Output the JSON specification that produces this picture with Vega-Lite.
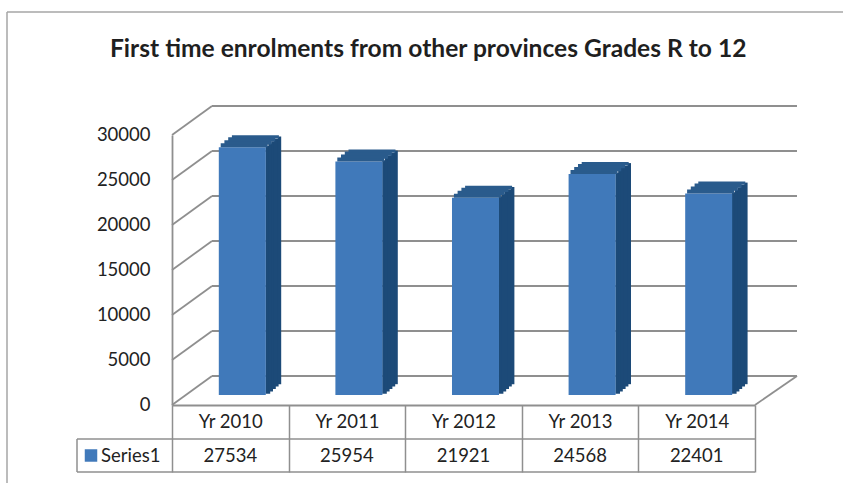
{
  "$schema": "https://vega.github.io/schema/vega-lite/v6.json",
  "width": 836.4,
  "height": 471.4,
  "autosize": {"type": "none"},
  "padding": {"left": 7, "top": 12, "right": 0, "bottom": 0},
  "background": "white",
  "config": {
    "font": "Lato",
    "view": {"stroke": "#a6a6a6", "strokeWidth": 1.5, "strokeDash": [836.4, 1307.8, 471.4, 0]},
    "axis": {"grid": false, "title": null, "labelFont": "Lato", "labelFontSize": 18.5, "labelColor": "#222222", "domainColor": "#8f8f8f", "domainWidth": 1.8}
  },
  "title": {
    "text": "First time enrolments from other provinces Grades R to 12",
    "font": "Lato",
    "fontSize": 24.6,
    "fontWeight": "bold",
    "color": "#1f1f1f",
    "anchor": "middle",
    "frame": "group",
    "baseline": "alphabetic",
    "offset": -70,
    "dx": 3
  },
  "datasets": {
    "enrol": [
      {"year": "Yr 2010", "value": 27534},
      {"year": "Yr 2011", "value": 25954},
      {"year": "Yr 2012", "value": 21921},
      {"year": "Yr 2013", "value": 24568},
      {"year": "Yr 2014", "value": 22401}
    ],
    "levels": [
      {"v": 0}, {"v": 5000}, {"v": 10000}, {"v": 15000}, {"v": 20000}, {"v": 25000}, {"v": 30000}
    ],
    "one": [{"label": "Series1"}]
  },
  "layer": [
    {
      "data": {"name": "levels"},
      "mark": {"type": "rule", "color": "#8f8f8f", "strokeWidth": 1.8, "xOffset": 40, "x2Offset": 42, "yOffset": -29},
      "encoding": {
        "x": {
          "datum": "Yr 2010", "type": "nominal", "bandPosition": 0,
          "scale": {"domain": ["Yr 2010", "Yr 2011", "Yr 2012", "Yr 2013", "Yr 2014"], "range": [165, 748], "paddingInner": 0, "paddingOuter": 0},
          "axis": {"orient": "bottom", "offset": -78.4, "labelAngle": 0, "tickBand": "extent", "ticks": true, "tickSize": 67, "tickColor": "#8f8f8f", "tickWidth": 1.5, "labelPadding": -50, "labelBaseline": "middle", "title": null}
        },
        "x2": {"datum": "Yr 2014", "bandPosition": 1},
        "y": {
          "field": "v", "type": "quantitative",
          "scale": {"domain": [0, 30000], "range": [393, 123], "nice": false, "zero": true},
          "axis": {"orient": "left", "offset": -165, "ticks": false, "labelPadding": 22, "values": [0, 5000, 10000, 15000, 20000, 25000, 30000], "format": "d", "title": null}
        }
      }
    },
    {
      "data": {"name": "levels"},
      "mark": {"type": "rule", "color": "#8f8f8f", "strokeWidth": 1.8, "x2Offset": 40, "y2Offset": -29},
      "encoding": {
        "x": {"datum": "Yr 2010", "type": "nominal", "bandPosition": 0},
        "x2": {"datum": "Yr 2010", "bandPosition": 0},
        "y": {"field": "v", "type": "quantitative"},
        "y2": {"field": "v"}
      }
    },
    {
      "data": {"name": "one"},
      "mark": {"type": "rule", "color": "#8f8f8f", "strokeWidth": 1.8, "x2Offset": 42, "y2Offset": -29},
      "encoding": {
        "x": {"datum": "Yr 2014", "type": "nominal", "bandPosition": 1},
        "x2": {"datum": "Yr 2014", "bandPosition": 1},
        "y": {"datum": 0, "type": "quantitative"},
        "y2": {"datum": 0}
      }
    },
    {
      "data": {"name": "one"},
      "mark": {"type": "rule", "color": "#8f8f8f", "strokeWidth": 1.5, "xOffset": -95, "yOffset": 34},
      "encoding": {
        "x": {"datum": "Yr 2010", "type": "nominal", "bandPosition": 0},
        "x2": {"datum": "Yr 2014", "bandPosition": 1},
        "y": {"datum": 0, "type": "quantitative"}
      }
    },
    {
      "data": {"name": "one"},
      "mark": {"type": "rule", "color": "#8f8f8f", "strokeWidth": 1.5, "xOffset": -95, "yOffset": 67},
      "encoding": {
        "x": {"datum": "Yr 2010", "type": "nominal", "bandPosition": 0},
        "x2": {"datum": "Yr 2014", "bandPosition": 1},
        "y": {"datum": 0, "type": "quantitative"}
      }
    },
    {
      "data": {"name": "one"},
      "mark": {"type": "rule", "color": "#8f8f8f", "strokeWidth": 1.5, "xOffset": -95, "yOffset": 34, "y2Offset": 67},
      "encoding": {
        "x": {"datum": "Yr 2010", "type": "nominal", "bandPosition": 0},
        "y": {"datum": 0, "type": "quantitative"},
        "y2": {"datum": 0}
      }
    },
    {
      "data": {"name": "enrol"},
      "mark": {"type": "bar", "color": "#1c4a78", "width": 4.6, "xOffset": 37.6, "yOffset": -11.2, "y2Offset": -11.2},
      "encoding": {"x": {"field": "year", "type": "nominal"}, "y": {"field": "value", "type": "quantitative"}}
    },
    {
      "data": {"name": "enrol"},
      "mark": {"type": "bar", "color": "#1c4a78", "width": 4.6, "xOffset": 40.4, "yOffset": -13.6, "y2Offset": -13.6},
      "encoding": {"x": {"field": "year", "type": "nominal"}, "y": {"field": "value", "type": "quantitative"}}
    },
    {
      "data": {"name": "enrol"},
      "mark": {"type": "bar", "color": "#1c4a78", "width": 4.6, "xOffset": 43.2, "yOffset": -16, "y2Offset": -16},
      "encoding": {"x": {"field": "year", "type": "nominal"}, "y": {"field": "value", "type": "quantitative"}}
    },
    {
      "data": {"name": "enrol"},
      "mark": {"type": "bar", "color": "#1c4a78", "width": 4.6, "xOffset": 46, "yOffset": -18.4, "y2Offset": -18.4},
      "encoding": {"x": {"field": "year", "type": "nominal"}, "y": {"field": "value", "type": "quantitative"}}
    },
    {
      "data": {"name": "enrol"},
      "mark": {"type": "bar", "color": "#1c4a78", "width": 3.4, "xOffset": 49.2, "yOffset": -20.8, "y2Offset": -20.8},
      "encoding": {"x": {"field": "year", "type": "nominal"}, "y": {"field": "value", "type": "quantitative"}}
    },
    {
      "data": {"name": "enrol"},
      "mark": {"type": "bar", "color": "#4079ba", "width": 47, "xOffset": 12, "yOffset": -10, "y2Offset": -10},
      "encoding": {"x": {"field": "year", "type": "nominal"}, "y": {"field": "value", "type": "quantitative"}}
    },
    {
      "data": {"name": "enrol"},
      "mark": {"type": "bar", "color": "#2a5b8c", "width": 47, "xOffset": 13.9, "yOffset": -14, "y2Offset": -10},
      "encoding": {"x": {"field": "year", "type": "nominal"}, "y": {"field": "value", "type": "quantitative"}, "y2": {"field": "value"}}
    },
    {
      "data": {"name": "enrol"},
      "mark": {"type": "bar", "color": "#2a5b8c", "width": 47, "xOffset": 17.6, "yOffset": -17, "y2Offset": -12.6},
      "encoding": {"x": {"field": "year", "type": "nominal"}, "y": {"field": "value", "type": "quantitative"}, "y2": {"field": "value"}}
    },
    {
      "data": {"name": "enrol"},
      "mark": {"type": "bar", "color": "#2a5b8c", "width": 47, "xOffset": 21.4, "yOffset": -20, "y2Offset": -15.6},
      "encoding": {"x": {"field": "year", "type": "nominal"}, "y": {"field": "value", "type": "quantitative"}, "y2": {"field": "value"}}
    },
    {
      "data": {"name": "enrol"},
      "mark": {"type": "bar", "color": "#2a5b8c", "width": 47, "xOffset": 25.1, "yOffset": -22, "y2Offset": -18.6},
      "encoding": {"x": {"field": "year", "type": "nominal"}, "y": {"field": "value", "type": "quantitative"}, "y2": {"field": "value"}}
    },
    {
      "data": {"name": "enrol"},
      "mark": {"type": "text", "font": "Lato", "fontSize": 18.5, "color": "#222222", "baseline": "middle", "align": "center", "yOffset": 51},
      "encoding": {
        "x": {"field": "year", "type": "nominal"},
        "y": {"datum": 0, "type": "quantitative"},
        "text": {"field": "value", "type": "quantitative", "format": "d"}
      }
    },
    {
      "data": {"name": "one"},
      "mark": {"type": "text", "font": "Lato", "fontSize": 18.5, "color": "#222222", "baseline": "middle", "align": "left", "xOffset": -71, "yOffset": 51},
      "encoding": {
        "x": {"datum": "Yr 2010", "type": "nominal", "bandPosition": 0},
        "y": {"datum": 0, "type": "quantitative"},
        "text": {"field": "label"}
      }
    },
    {
      "data": {"name": "one"},
      "mark": {"type": "point", "shape": "square", "filled": true, "opacity": 1, "size": 156, "color": "#4079ba", "xOffset": -81, "yOffset": 50.5},
      "encoding": {
        "x": {"datum": "Yr 2010", "type": "nominal", "bandPosition": 0},
        "y": {"datum": 0, "type": "quantitative"}
      }
    }
  ]
}
